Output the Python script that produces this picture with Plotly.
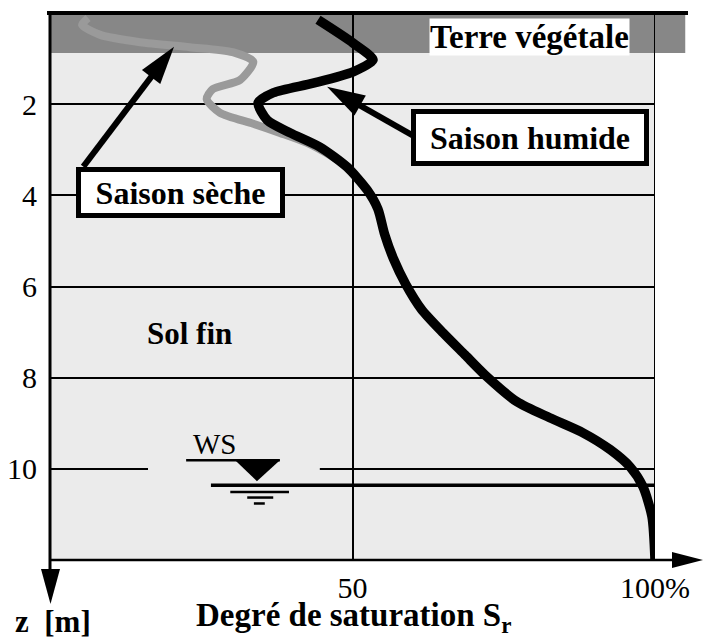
import math
import plotly.graph_objects as go

# ---------------- data ----------------
# Saison humide (black curve): depth z [m] and degree of saturation [%]
z_humide = [0.15, 0.66, 1.03, 1.29, 1.54, 1.75, 1.97, 2.35, 2.63, 2.94, 3.38,
            3.88, 4.30, 4.85, 5.40, 5.95, 6.50, 7.02, 7.50, 7.94,
            8.53, 8.88, 9.21, 9.58, 9.96, 10.39, 11.05, 12.0]
sr_humide = [44.3, 50.1, 53.4, 50.1, 43.5, 36.9, 34.4, 35.9, 39.7, 44.6, 49.1,
             52.4, 54.2, 55.3, 56.8, 58.8, 61.4, 65.0, 68.6, 71.9,
             77.2, 82.6, 88.1, 92.6, 95.9, 98.0, 99.5, 100.0]

# Saison sèche (grey curve)
z_seche = [0.11, 0.26, 0.48, 0.64, 0.75, 0.86, 1.07, 1.47, 1.67, 1.89, 2.19,
           2.43, 2.63, 2.85, 3.16, 3.40]
sr_seche = [6.3, 5.3, 8.3, 14.9, 23.1, 30.2, 33.6, 31.4, 26.9, 25.9, 28.1,
            33.6, 38.0, 42.5, 46.8, 49.6]

# axes ticks
y_ticks = [2, 4, 6, 8, 10]
x_ticks = [50, 100]
x_ticklabels = ["50", "100%"]

# layer boundaries
z_topsoil = 0.88       # bottom of "Terre végétale"
z_water = 10.36        # water table

# ---------------- layout geometry ----------------
W, H = 704, 639
ML, MR, MT, MB = 50, 49, 13, 79
PW, PH = W - ML - MR, H - MT - MB
X0, X1 = 0, 100
Z0, Z1 = 0, 12
PX_X = PW / (X1 - X0)
PX_Z = PH / (Z1 - Z0)
FONT = "Liberation Serif"

LIGHT = "#ebebeb"
DARK = "#878787"
GREY = "#9a9a9a"


def pxx(px):  # pixel -> paper x
    return (px - ML) / PW


def pxy(py):  # pixel -> paper y
    return (H - MB - py) / PH


def dx2p(x):  # data x -> paper
    return (x - X0) / (X1 - X0)


def dz2p(z):  # data z -> paper
    return 1 - (z - Z0) / (Z1 - Z0)


fig = go.Figure()
fig.add_trace(go.Scatter(x=sr_seche, y=z_seche, mode="lines",
                         line=dict(color=GREY, width=8, shape="spline", smoothing=0.7),
                         hoverinfo="skip", showlegend=False))
fig.add_trace(go.Scatter(x=sr_humide, y=z_humide, mode="lines",
                         line=dict(color="black", width=9.5, shape="spline", smoothing=0.7),
                         hoverinfo="skip", showlegend=False))

shapes = []
# backgrounds
shapes.append(dict(type="rect", xref="paper", yref="paper", x0=0, x1=1, y0=0, y1=1,
                   fillcolor=LIGHT, line_width=0, layer="below"))
shapes.append(dict(type="rect", xref="paper", yref="paper", x0=0, x1=dx2p(105),
                   y0=dz2p(z_topsoil), y1=1, fillcolor=DARK, line_width=0, layer="below"))
# gap in the z=10 grid line around the WS symbol
shapes.append(dict(type="rect", xref="x", yref="y", x0=16.2, x1=44.6, y0=9.9, y1=10.1,
                   fillcolor=LIGHT, line_width=0, layer="between"))
# right border
shapes.append(dict(type="line", xref="x", yref="paper", x0=100, x1=100, y0=0, y1=1,
                   line=dict(color="black", width=2)))
# top line
shapes.append(dict(type="line", xref="paper", yref="paper", x0=pxx(47), x1=pxx(688),
                   y0=1, y1=1, line=dict(color="black", width=4)))
# y axis with arrow
shapes.append(dict(type="line", xref="paper", yref="paper", x0=0, x1=0, y0=1, y1=pxy(570),
                   line=dict(color="black", width=3)))
shapes.append(dict(type="path", xref="paper", yref="paper",
                   path=f"M{pxx(41)},{pxy(569)} L{pxx(60)},{pxy(569)} L{pxx(50.5)},{pxy(604)} Z",
                   fillcolor="black", line_width=0))
# x axis with arrow
shapes.append(dict(type="line", xref="paper", yref="paper", x0=0, x1=pxx(674), y0=0, y1=0,
                   line=dict(color="black", width=2.5)))
shapes.append(dict(type="path", xref="paper", yref="paper",
                   path=f"M{pxx(672)},{pxy(552)} L{pxx(672)},{pxy(568)} L{pxx(703)},{pxy(560)} Z",
                   fillcolor="black", line_width=0))

# water table symbol (WS)
shapes.append(dict(type="line", xref="x", yref="y", x0=22.5, x1=38.0, y0=9.81, y1=9.81,
                   line=dict(color="black", width=2.5)))
shapes.append(dict(type="path", xref="x", yref="y",
                   path="M30.6,9.81 L38.0,9.81 L34.2,10.27 Z", fillcolor="black", line_width=0))
shapes.append(dict(type="line", xref="x", yref="y", x0=26.6, x1=100, y0=z_water, y1=z_water,
                   line=dict(color="black", width=3.5)))
for (xa, xb, zz) in [(29.8, 39.5, 10.51), (32.6, 36.9, 10.63), (33.7, 35.5, 10.76)]:
    shapes.append(dict(type="line", xref="x", yref="y", x0=xa, x1=xb, y0=zz, y1=zz,
                       line=dict(color="black", width=2.5)))


def arrow(tail, tip, head_len=38, head_w=23, lw=6):
    tx, tz = tail[0] * PX_X, tail[1] * PX_Z
    hx, hz = tip[0] * PX_X, tip[1] * PX_Z
    dx, dy = hx - tx, hz - tz
    L = math.hypot(dx, dy)
    ux, uy = dx / L, dy / L
    bx, by = hx - ux * head_len, hz - uy * head_len
    nx, ny = -uy, ux
    c1 = (bx + nx * head_w / 2, by + ny * head_w / 2)
    c2 = (bx - nx * head_w / 2, by - ny * head_w / 2)
    return [dict(type="line", xref="x", yref="y", x0=tail[0], y0=tail[1],
                 x1=(bx + ux * 4) / PX_X, y1=(by + uy * 4) / PX_Z,
                 line=dict(color="black", width=lw), layer="above"),
            dict(type="path", xref="x", yref="y",
                 path=(f"M{hx / PX_X},{hz / PX_Z} L{c1[0] / PX_X},{c1[1] / PX_Z} "
                       f"L{c2[0] / PX_X},{c2[1] / PX_Z} Z"),
                 fillcolor="black", line_width=0, layer="above")]


shapes += arrow((5.5, 3.37), (20.5, 0.74))
shapes += arrow((60.3, 2.71), (45.8, 1.62))

annotations = [
    dict(x=79.3, y=0.53, xref="x", yref="y", text="<b>Terre végétale</b>", showarrow=False,
         font=dict(family=FONT, size=33, color="black"), bgcolor="white", borderpad=0),
    dict(x=21.6, y=3.93, xref="x", yref="y", text="<b>Saison sèche</b>", showarrow=False,
         font=dict(family=FONT, size=32, color="black"), bgcolor="white",
         bordercolor="black", borderwidth=5, borderpad=2, width=195, height=37),
    dict(x=79.4, y=2.74, xref="x", yref="y", text="<b>Saison humide</b>", showarrow=False,
         font=dict(family=FONT, size=32, color="black"), bgcolor="white",
         bordercolor="black", borderwidth=5, borderpad=2, width=224, height=43),
    dict(x=23.1, y=7.03, xref="x", yref="y", text="<b>Sol fin</b>", showarrow=False,
         font=dict(family=FONT, size=31, color="black")),
    dict(x=27.3, y=9.45, xref="x", yref="y", text="WS", showarrow=False,
         font=dict(family=FONT, size=29, color="black")),
    dict(x=pxx(53), y=pxy(621), xref="paper", yref="paper", text="<b>z  [m]</b>",
         xanchor="center", yanchor="middle",
         showarrow=False, font=dict(family=FONT, size=31, color="black")),
    dict(x=pxx(353), y=pxy(617), xref="paper", yref="paper",
         text="<b>Degré de saturation S<sub>r</sub></b>", xanchor="center", yanchor="middle",
         showarrow=False, font=dict(family=FONT, size=33, color="black")),
]

fig.update_layout(
    width=W, height=H,
    margin=dict(l=ML, r=MR, t=MT, b=MB, pad=0, autoexpand=False),
    paper_bgcolor="white", plot_bgcolor="rgba(0,0,0,0)",
    shapes=shapes, annotations=annotations,
    showlegend=False,
    font=dict(family=FONT, color="black"),
)
fig.update_xaxes(range=[X0, X1], tickvals=x_ticks, ticktext=x_ticklabels,
                 showgrid=True, gridcolor="black", gridwidth=2, zeroline=False,
                 showline=False, ticks="", ticklabelstandoff=7, automargin=False,
                 tickfont=dict(family=FONT, size=30, color="black"))
fig.update_yaxes(range=[Z1, Z0], tickvals=y_ticks,
                 showgrid=True, gridcolor="black", gridwidth=2, zeroline=False,
                 showline=False, ticks="", ticklabelstandoff=12, automargin=False,
                 tickfont=dict(family=FONT, size=30, color="black"))

fig.write_html("out.html", config={"displayModeBar": False},
               post_script="document.body.style.margin='0';")
